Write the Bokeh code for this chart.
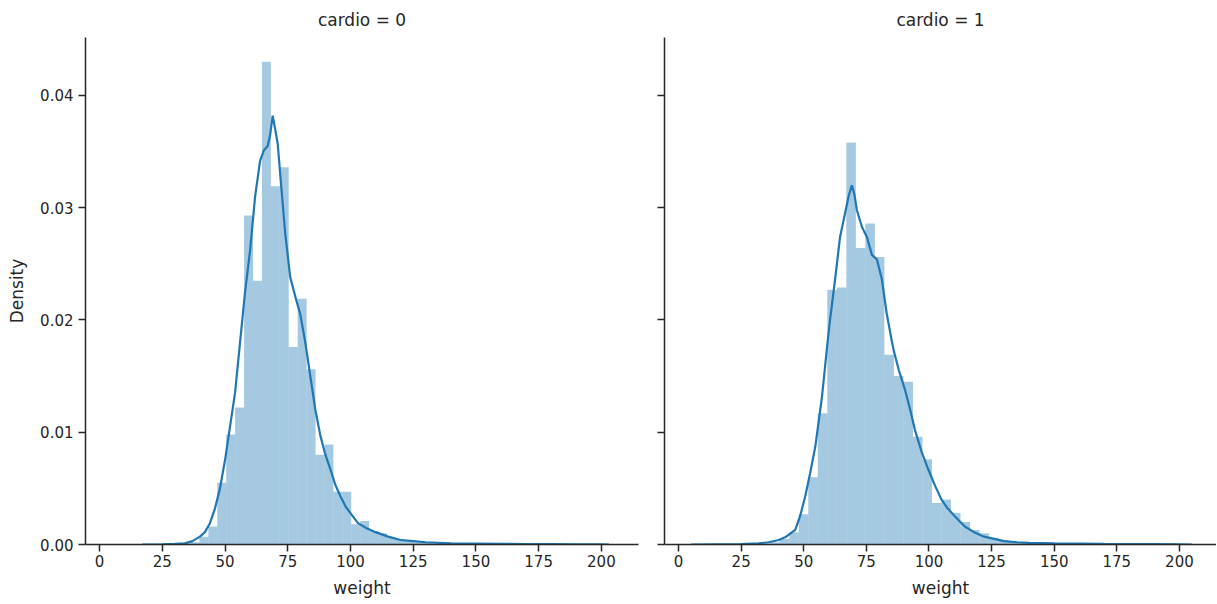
import numpy as np
from bokeh.plotting import figure
from bokeh.layouts import row
from bokeh.models import Range1d, FixedTicker, CustomJSTickFormatter, Title
from bokeh.embed import file_html
from bokeh.resources import INLINE

# ---------------- data ----------------
panel_titles = ["cardio = 0", "cardio = 1"]
x_label = "weight"
y_label = "Density"
x_ticks = [0, 25, 50, 75, 100, 125, 150, 175, 200]
y_ticks = [0.00, 0.01, 0.02, 0.03, 0.04]

# histogram bins (50 equal bins from min to max weight of each group)
bins0_min, bins0_max = 22.0, 200.0
bins1_min, bins1_max = 10.0, 200.0
n_bins = 50

hist0 = [0.00002, 0.00003, 0.00005, 0.0001, 0.0002, 0.0007, 0.0016, 0.0055, 0.0098, 0.0122,
         0.0293, 0.0235, 0.0430, 0.0319, 0.0336, 0.0176, 0.0219, 0.0156, 0.0080, 0.0089,
         0.0047, 0.0047, 0.0018, 0.0021, 0.0012, 0.0010, 0.0006, 0.0005, 0.0004, 0.0002,
         0.0002, 0.0001, 0.0001, 0.00008, 0.00008, 0.00006, 0.00005, 0.00005, 0.00004, 0.00004,
         0.00003, 0.00003, 0.00003, 0.00002, 0.00002, 0.00002, 0.00002, 0.00001, 0.00001, 0.00002]

hist1 = [0.00002, 0.00002, 0.00003, 0.00004, 0.00006, 0.0001, 0.0001, 0.0002, 0.0005, 0.0011,
         0.0027, 0.0060, 0.0117, 0.0227, 0.0229, 0.0358, 0.0264, 0.0286, 0.0256, 0.0169,
         0.0150, 0.0145, 0.0096, 0.0076, 0.0037, 0.0040, 0.0028, 0.0020, 0.0013, 0.0010,
         0.0006, 0.0004, 0.0003, 0.0002, 0.0002, 0.0001, 0.0001, 0.00008, 0.00006, 0.00005,
         0.00004, 0.00004, 0.00003, 0.00003, 0.00002, 0.00002, 0.00002, 0.00001, 0.00001, 0.00002]

kde0_x = [17, 25, 30, 34, 37, 40, 42, 44, 46, 48, 50, 52, 54, 56, 58, 60, 62, 64, 65.5, 67,
          68, 69, 70, 71, 72, 74, 76, 78, 80, 82, 84, 86, 88, 90, 92, 94, 96, 98, 100, 103,
          106, 110, 115, 120, 125, 130, 140, 150, 160, 170, 180, 190, 200, 203]
kde0_y = [0, 0.00002, 0.00005, 0.0001, 0.0003, 0.0007, 0.0011, 0.0019, 0.0032, 0.0050,
          0.0075, 0.0105, 0.0135, 0.0180, 0.0225, 0.0262, 0.0310, 0.0342, 0.0351, 0.0355,
          0.0365, 0.0382, 0.0370, 0.0357, 0.0330, 0.0277, 0.0238, 0.0221, 0.0205, 0.0180,
          0.0150, 0.0120, 0.0097, 0.0080, 0.0067, 0.0053, 0.0043, 0.0034, 0.0028, 0.0019,
          0.0015, 0.0011, 0.0007, 0.0004, 0.0003, 0.0002, 0.0001, 0.00008, 0.00006, 0.00004,
          0.00003, 0.00002, 0.00001, 0]

kde1_x = [5, 15, 25, 32, 36, 40, 43, 46.6, 48.5, 50.6, 52.5, 54.6, 57.3, 59.5, 60.5, 62.5,
          64.5, 66.5, 67.9, 69.2, 70.2, 71.2, 73.2, 75.2, 77.2, 79.2, 81.2, 83.1, 85.1, 86,
          88, 90.4, 92.5, 94.4, 97, 99.7, 102.5, 105, 107.5, 110.4, 114.3, 118, 122, 126,
          130, 135, 140, 150, 160, 170, 180, 190, 200, 205]
kde1_y = [0, 0.00002, 0.00004, 0.0001, 0.0002, 0.0004, 0.0007, 0.0013, 0.0025, 0.0043,
          0.0063, 0.0087, 0.0132, 0.0180, 0.0200, 0.0236, 0.0274, 0.0295, 0.0310, 0.0320,
          0.0312, 0.0298, 0.0283, 0.0274, 0.0258, 0.0254, 0.0236, 0.0206, 0.0182, 0.0172,
          0.0155, 0.0138, 0.0120, 0.0102, 0.0083, 0.0067, 0.0052, 0.0040, 0.0032, 0.0025,
          0.0016, 0.0011, 0.0007, 0.0005, 0.0003, 0.0002, 0.00015, 0.0001, 0.00008, 0.00005,
          0.00004, 0.00003, 0.00002, 0]

# ---------------- styling ----------------
FONT = "DejaVu Sans"
BLUE = "#1f77b4"
AXC = "#262626"
TXT = "#262626"
X_RANGE = (-5.6, 214.8)
Y_RANGE = (0.0, 0.04516)


def make_panel(title, hist, bmin, bmax, kx, ky, show_ylabels, width, bl, br):
    p = figure(width=width, height=600, output_backend="svg", toolbar_location=None,
               x_range=Range1d(*X_RANGE), y_range=Range1d(*Y_RANGE),
               min_border_left=bl, min_border_right=br, min_border_top=37,
               min_border_bottom=55)
    p.title = Title(text=title, align="center", text_font=FONT, text_font_size="17px",
                    text_font_style="normal", text_color=TXT, offset=0, standoff=15)
    p.outline_line_color = None
    p.grid.visible = False
    p.background_fill_color = "white"
    p.border_fill_color = "white"

    edges = np.linspace(bmin, bmax, n_bins + 1)
    p.quad(left=edges[:-1], right=edges[1:], bottom=0, top=hist,
           fill_color=BLUE, fill_alpha=0.4, line_color=None)
    p.line(kx, ky, line_color=BLUE, line_width=2.2)

    for ax in (p.xaxis[0], p.yaxis[0]):
        ax.axis_line_color = AXC
        ax.axis_line_width = 1.5
        ax.major_tick_line_color = AXC
        ax.major_tick_line_width = 1.5
        ax.major_tick_out = 7
        ax.major_tick_in = 0
        ax.minor_tick_line_color = None
        ax.major_label_text_font = FONT
        ax.major_label_text_font_size = "15px"
        ax.major_label_text_color = TXT
        ax.axis_label_text_font = FONT
        ax.axis_label_text_font_size = "17px"
        ax.axis_label_text_font_style = "normal"
        ax.axis_label_text_color = TXT

    p.xaxis.ticker = FixedTicker(ticks=x_ticks)
    p.xaxis.axis_label = x_label
    p.xaxis.major_label_standoff = 3
    p.xaxis.axis_label_standoff = 8
    p.yaxis.ticker = FixedTicker(ticks=y_ticks)
    if show_ylabels:
        p.yaxis.formatter = CustomJSTickFormatter(code="return tick.toFixed(2);")
        p.yaxis.axis_label = y_label
        p.yaxis.major_label_standoff = 5
        p.yaxis.axis_label_standoff = 10
    else:
        p.yaxis.formatter = CustomJSTickFormatter(code="return '';")
        p.yaxis.major_label_standoff = 0
    return p


p0 = make_panel(panel_titles[0], hist0, bins0_min, bins0_max, kde0_x, kde0_y, True,
                width=651, bl=85, br=13)
p1 = make_panel(panel_titles[1], hist1, bins1_min, bins1_max, kde1_x, kde1_y, False,
                width=565, bl=13, br=0)

layout = row(p0, p1)
open("out.html", "w").write(file_html(layout, INLINE))
